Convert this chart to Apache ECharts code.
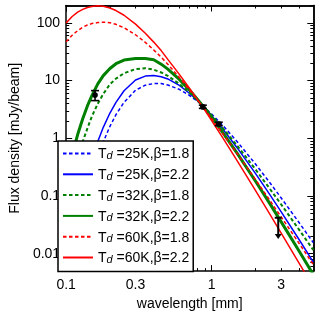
<!DOCTYPE html>
<html><head><meta charset="utf-8">
<script src="https://cdn.jsdelivr.net/npm/echarts@6/dist/echarts.min.js"></script>
<style>html,body{margin:0;padding:0;background:#fff}#c{width:316px;height:316px}</style>
</head><body><div id="c"></div>
<script>
// wavelength grid [mm]
const wavelength = [0.1,0.11,0.12,0.13,0.14,0.15,0.165,0.18,0.2,0.22,0.25,0.3,0.35,0.4,0.45,0.5,0.6,0.7,0.8,0.87,1.0,1.2,1.5,2,2.5,3,4,5];
// flux density [mJy/beam]
const fluxT25b18 = [0.00149,0.00622,0.01955,0.0498,0.1087,0.2087,0.461,0.863,1.611,2.564,4.20,6.81,8.33,8.88,8.87,8.40,7.05,5.60,4.36,3.65,2.64,1.648,0.873,0.359,0.173,0.0934,0.0344,0.01556];
const fluxT25b22 = [0.00355,0.01408,0.0427,0.1055,0.2235,0.418,0.881,1.549,2.742,4.20,6.67,10.23,11.97,12.23,11.65,10.69,8.25,6.10,4.505,3.65,2.471,1.419,0.681,0.2467,0.1076,0.0535,0.01745,0.00718];
const fluxT32b18 = [0.0839,0.2086,0.462,0.878,1.482,2.383,3.98,5.88,8.63,10.82,13.41,15.83,16.43,15.46,13.84,12.06,8.75,6.27,4.522,3.65,2.505,1.477,0.742,0.290,0.1359,0.0720,0.02594,0.01159];
const fluxT32b22 = [0.191,0.521,1.16,2.185,3.636,5.44,8.75,12.2,16.2,19.6,22.7,24.2,24.1,22.9,19.25,15.8,10.45,6.98,4.72,3.65,2.317,1.234,0.547,0.182,0.0753,0.0360,0.01104,0.00435];
const fluxT60b18 = [47.1,61.1,73.5,84.2,91.7,97.1,101.3,103.0,100.4,94.3,82.3,62.2,46.0,34.0,25.4,19.25,11.28,7.03,4.58,3.50,2.20,1.179,0.540,0.1936,0.0858,0.0437,0.01504,0.00651];
const fluxT60b22 = [100,128.8,153.5,171.7,185.0,192.4,197.1,193.5,180.7,163.4,135.6,95.3,66.3,46.4,33.1,23.3,12.8,7.51,4.69,3.47,2.034,0.995,0.407,0.1254,0.0496,0.02306,0.00683,0.00264];
const temps = ['25K','25K','32K','32K','60K','60K'];
const betas = ['1.8','2.2','1.8','2.2','1.8','2.2'];
// observed points
const obsX = [0.158,0.87,1.12];
const obsY = [5.6,3.5,1.77];
const obsLo = [4.5,3.3,1.65];
const obsHi = [6.7,3.75,1.9];
const limX = [2.87];
const limY = [0.042];
const limTip = [0.018];
// ticks
const xTickLabels = [0.1,0.3,1,3];
const xMajorTicks = [0.1,1];
const xMinorTicks = [0.2,0.3,0.4,0.5,0.6,0.7,0.8,0.9,2,3,4];
const yTickLabels = [0.01,0.1,1,10,100];
const yMajorTicks = [0.01,0.1,1,10,100];
const yMinorTicks = [0.006,0.007,0.008,0.009,0.02,0.03,0.04,0.05,0.06,0.07,0.08,0.09,0.2,0.3,0.4,0.5,0.6,0.7,0.8,0.9,2,3,4,5,6,7,8,9,20,30,40,50,60,70,80,90,200];

const FONT = '"Liberation Sans", Arial, sans-serif';
const fluxSets = [fluxT25b18,fluxT25b22,fluxT32b18,fluxT32b22,fluxT60b18,fluxT60b22];
const colors = ['#0000ff','#0000ff','#008000','#008000','#ff0000','#ff0000'];
const widths = [1.5,1.5,2,3,1.5,1.5];
const dashed = [true,false,true,false,true,false];
const names = temps.map((t,i)=>'T_d =' + t + ',β=' + betas[i]);

const chart = echarts.init(document.getElementById('c'), null, {renderer:'canvas'});
const fmt = v => String(+(+v).toPrecision(3));
function xAx(pos, ticks, len, labels, extra){
  return Object.assign({type:'log', position:pos, min:0.1, max:5, logBase:10,
    axisLine:{show:!!labels || pos==='top', onZero:false, lineStyle:{color:'#000', width:1.5}},
    axisTick:{show:true, inside:true, length:len, customValues:ticks, lineStyle:{color:'#000', width:1}},
    axisLabel: labels ? {show:true, customValues:labels, formatter:fmt, color:'#000', fontSize:14, fontFamily:FONT, margin:7} : {show:false},
    splitLine:{show:false}, minorTick:{show:false}}, extra||{});
}
function yAx(pos, ticks, len, labels, extra){
  return Object.assign({type:'log', position:pos, min:0.005, max:200, logBase:10,
    axisLine:{show:!!labels || pos==='right', onZero:false, lineStyle:{color:'#000', width:1.5}},
    axisTick:{show:true, inside:true, length:len, customValues:ticks, lineStyle:{color:'#000', width:1}},
    axisLabel: labels ? {show:true, customValues:labels, formatter:fmt, color:'#000', fontSize:14, fontFamily:FONT, margin:6} : {show:false},
    splitLine:{show:false}, minorTick:{show:false}}, extra||{});
}

const lineSeries = fluxSets.map((arr,i)=>({
  type:'line', name:names[i], xAxisIndex:0, yAxisIndex:0,
  data: wavelength.map((w,j)=>[w,arr[j]]),
  showSymbol:false, symbol:'none', smooth:false, clip:true,
  lineStyle:{color:colors[i], width:widths[i], type: dashed[i] ? [3.5,2.5] : 'solid'},
  itemStyle:{color:colors[i]}, z:2, silent:true
}));

const errSeries = {
  type:'custom', xAxisIndex:0, yAxisIndex:0, z:5, silent:true,
  data: obsX.map((x,i)=>[x,obsY[i],obsLo[i],obsHi[i]]),
  encode:{x:0, y:1},
  renderItem(params, api){
    const p = api.coord([api.value(0), api.value(1)]);
    const lo = api.coord([api.value(0), api.value(2)]);
    const hi = api.coord([api.value(0), api.value(3)]);
    const st = {stroke:'#000', lineWidth:1.6};
    return {type:'group', children:[
      {type:'line', shape:{x1:p[0], y1:lo[1], x2:p[0], y2:hi[1]}, style:st},
      {type:'line', shape:{x1:p[0]-4, y1:lo[1], x2:p[0]+4, y2:lo[1]}, style:st},
      {type:'line', shape:{x1:p[0]-4, y1:hi[1], x2:p[0]+4, y2:hi[1]}, style:st},
      {type:'circle', shape:{cx:p[0], cy:p[1], r:2.8}, style:{fill:'#000'}}
    ]};
  }
};
const limSeries = {
  type:'custom', xAxisIndex:0, yAxisIndex:0, z:5, silent:true,
  data: limX.map((x,i)=>[x,limY[i],limTip[i]]),
  encode:{x:0, y:1},
  renderItem(params, api){
    const p = api.coord([api.value(0), api.value(1)]);
    const t = api.coord([api.value(0), api.value(2)]);
    const st = {stroke:'#000', lineWidth:2};
    return {type:'group', children:[
      {type:'line', shape:{x1:p[0]-3.5, y1:p[1], x2:p[0]+3.5, y2:p[1]}, style:st},
      {type:'line', shape:{x1:p[0], y1:p[1], x2:p[0], y2:t[1]-4}, style:st},
      {type:'polygon', shape:{points:[[p[0]-3.5,t[1]-5],[p[0]+3.5,t[1]-5],[p[0],t[1]]]}, style:{fill:'#000'}}
    ]};
  }
};

chart.setOption({
  animation:false,
  backgroundColor:'#fff',
  grid:{left:51.5, right:2.7, top:5.5, bottom:39.3, containLabel:false},
  xAxis:[
    xAx('bottom', xMajorTicks, 6, xTickLabels, {name:'wavelength [mm]', nameLocation:'middle', nameGap:23,
      nameTextStyle:{color:'#000', fontSize:14, fontFamily:FONT}}),
    xAx('bottom', xMinorTicks, 3, null),
    xAx('top', xMajorTicks, 6, null),
    xAx('top', xMinorTicks, 3, null)
  ],
  yAxis:[
    yAx('left', yMajorTicks, 6, yTickLabels, {name:'Flux density [mJy/beam]', nameLocation:'middle', nameGap:38,
      nameTextStyle:{color:'#000', fontSize:14, fontFamily:FONT}}),
    yAx('left', yMinorTicks, 3, null),
    yAx('right', yMajorTicks, 6, null),
    yAx('right', yMinorTicks, 3, null)
  ],
  legend:{
    orient:'vertical', left:58, top:141, itemWidth:30, itemHeight:14, itemGap:6.8,
    padding:[6.5,4,6,4], borderColor:'#000', borderWidth:1.5, backgroundColor:'#fff',
    data: names, selectedMode:false,
    itemStyle:{color:'rgba(0,0,0,0)', borderColor:'rgba(0,0,0,0)', borderWidth:0},
    formatter: name => { const i = names.indexOf(name); return '{t|T}{d|d}{t| =' + temps[i] + ',β=' + betas[i] + '}'; },
    textStyle:{color:'#000', fontSize:14, fontFamily:FONT,
      rich:{ t:{fontSize:14, fontFamily:FONT, color:'#000', lineHeight:16, verticalAlign:'bottom'},
             d:{fontSize:11, fontFamily:FONT, fontStyle:'italic', color:'#000', lineHeight:9, verticalAlign:'bottom'} }}
  },
  series: lineSeries.concat([errSeries, limSeries])
});
</script></body></html>
